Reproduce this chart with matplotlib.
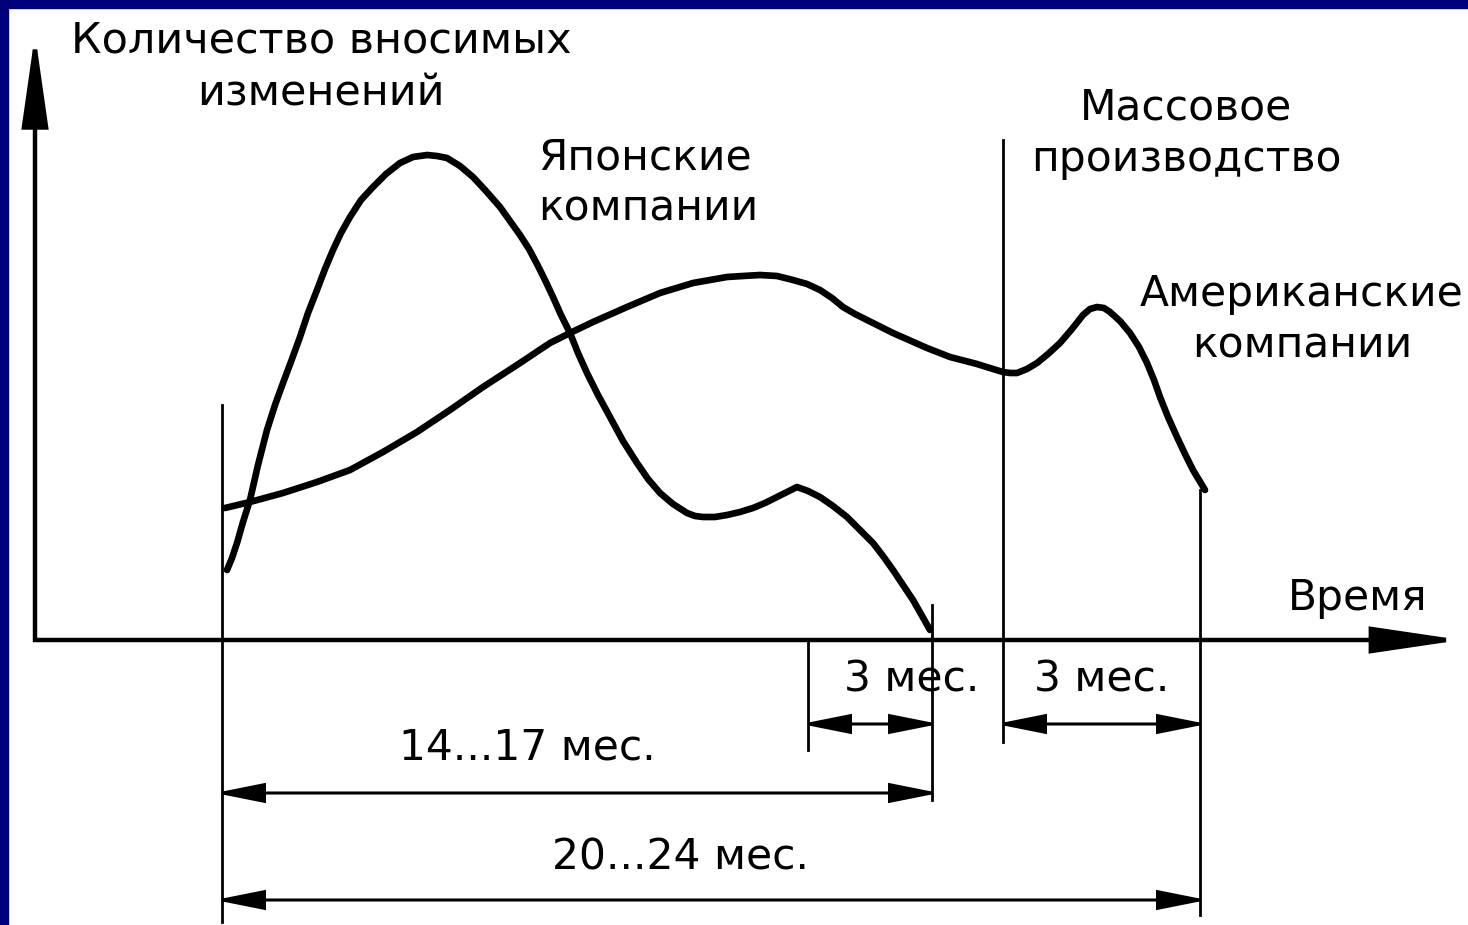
import matplotlib
matplotlib.use("Agg")
import matplotlib.pyplot as plt
from matplotlib.patches import Rectangle, FancyArrowPatch

# ---- data (schematic: x = time position, y = number of changes) ----
jp_x = [227, 232, 237, 243, 250, 258, 267, 275, 283, 292, 300, 308, 317, 325, 333, 341, 350,
        361, 373, 386, 400, 413, 427, 437, 447, 460, 473, 486, 500, 510, 520, 529, 537,
        545, 553, 561, 570, 578, 587, 598, 610, 623, 637, 648, 660, 673, 687, 695, 703,
        715, 727, 740, 753, 765, 777, 787, 797, 808, 820, 833, 847, 860, 873, 883, 893,
        903, 913, 921, 930]
jp_y = [70, 82, 97, 118, 140, 175, 210, 235, 257, 281, 303, 327, 350, 371, 390, 407, 423,
        440, 453, 466, 477, 483, 485, 484, 482, 474, 463, 449, 433, 419, 405, 391, 376,
        360, 343, 325, 307, 287, 267, 245, 223, 199, 177, 161, 147, 136, 127, 124, 123,
        123, 125, 128, 132, 137, 143, 148, 153, 149, 143, 134, 123, 110, 97, 84, 70,
        55, 40, 26, 10]

us_x = [225, 250, 283, 317, 350, 383, 417, 450, 483, 517, 550, 570, 593, 627, 660, 693, 727,
        743, 760, 777, 793, 807, 820, 832, 843, 855, 867, 893, 927, 950, 977, 993, 1003,
        1010, 1017, 1027, 1037, 1048, 1060, 1072, 1083, 1090, 1097, 1104, 1110, 1120,
        1130, 1139, 1147, 1154, 1160, 1168, 1177, 1185, 1193, 1205]
us_y = [132, 138, 147, 158, 170, 188, 208, 230, 253, 275, 297, 307, 318, 333, 347, 357, 363,
        364, 365, 364, 360, 356, 350, 342, 333, 326, 320, 307, 292, 283, 276, 271, 268,
        267, 267, 271, 277, 286, 297, 311, 325, 331, 333, 332, 328, 319,
        307, 293, 277, 260, 243, 223, 203, 186, 170, 150]

t_start = 222        # start of development
t_jp_end = 932       # Japanese companies finish changes
t_3m_before = 808    # 3 months before mass production
t_mass = 1003        # mass production
t_us_end = 1200      # American companies finish changes

labels_periods = ["3 мес.", "3 мес.", "14...17 мес.", "20...24 мес."]
y_axis_label = "Количество вносимых\nизменений"
x_axis_label = "Время"
jp_label = "Японские\nкомпании"
us_label = "Американские\nкомпании"
mass_label = "Массовое\nпроизводство"

# ---- figure ----
W, H = 1468, 925
fig = plt.figure(figsize=(W / 100, H / 100), dpi=100)
fig.patch.set_facecolor("white")
ax = fig.add_axes([0, 0, 1, 1])
ax.set_xlim(0, W)
ax.set_ylim(640 - H, 640)
ax.axis("off")

# navy frame (top and left)
fig.patches.append(Rectangle((0, 0), 8 / W, 1, transform=fig.transFigure,
                             color="#00007a", zorder=10))
fig.patches.append(Rectangle((0, 1 - 8 / H), 1, 8 / H, transform=fig.transFigure,
                             color="#00007a", zorder=10))

k = "black"
FS = 30.5


def arrow(p0, p1, style, lw):
    ax.add_patch(FancyArrowPatch(p0, p1, arrowstyle=style, mutation_scale=20, lw=lw,
                                 color=k, shrinkA=0, shrinkB=0, joinstyle="miter",
                                 capstyle="butt"))


# axes with arrows (tip overshoot compensates arrow-head inset)
arrow((35, -2), (35, 606), "-|>,head_length=2.8,head_width=0.4", 3.2)
arrow((33, 0), (1461, 0), "-|>,head_length=2.7,head_width=0.4", 3.2)

# curves
ax.plot(jp_x, jp_y, color=k, lw=4.8, solid_capstyle="round", solid_joinstyle="round")
ax.plot(us_x, us_y, color=k, lw=4.8, solid_capstyle="round", solid_joinstyle="round")

# vertical reference lines
ax.plot([t_start, t_start], [235, -282], color=k, lw=2.0)
ax.plot([t_jp_end, t_jp_end], [35, -160], color=k, lw=2.0)
ax.plot([t_3m_before, t_3m_before], [0, -110], color=k, lw=2.0)
ax.plot([t_mass, t_mass], [500, -102], color=k, lw=2.0)
ax.plot([t_us_end, t_us_end], [150, -275], color=k, lw=2.0)

# dimension arrows
inset = 7
for x0, x1, y in [(t_3m_before, t_jp_end, -84), (t_mass, t_us_end, -84),
                  (t_start, t_jp_end, -153), (t_start, t_us_end, -260)]:
    arrow((x0 - inset, y), (x1 + inset, y), "<|-|>,head_length=1.5,head_width=0.3", 2.2)

# texts
ax.text(321, 573, y_axis_label, fontsize=31, ha="center", va="center",
        linespacing=1.32, color=k)
ax.text(538, 457, jp_label, fontsize=FS, ha="left", va="center", linespacing=1.3, color=k)
ax.text(1186, 507, mass_label, fontsize=FS, ha="center", va="center", linespacing=1.3, color=k)
ax.text(1302, 320, us_label, fontsize=FS, ha="center", va="center", linespacing=1.3, color=k)
ax.text(1358, 42, x_axis_label, fontsize=FS, ha="center", va="center", color=k)
ax.text(912, -40, labels_periods[0], fontsize=FS, ha="center", va="center", color=k)
ax.text(1102, -40, labels_periods[1], fontsize=FS, ha="center", va="center", color=k)
ax.text(527, -108, labels_periods[2], fontsize=FS, ha="center", va="center", color=k)
ax.text(680, -218, labels_periods[3], fontsize=FS, ha="center", va="center", color=k)

fig.savefig("out.png", dpi=100, facecolor="white")
